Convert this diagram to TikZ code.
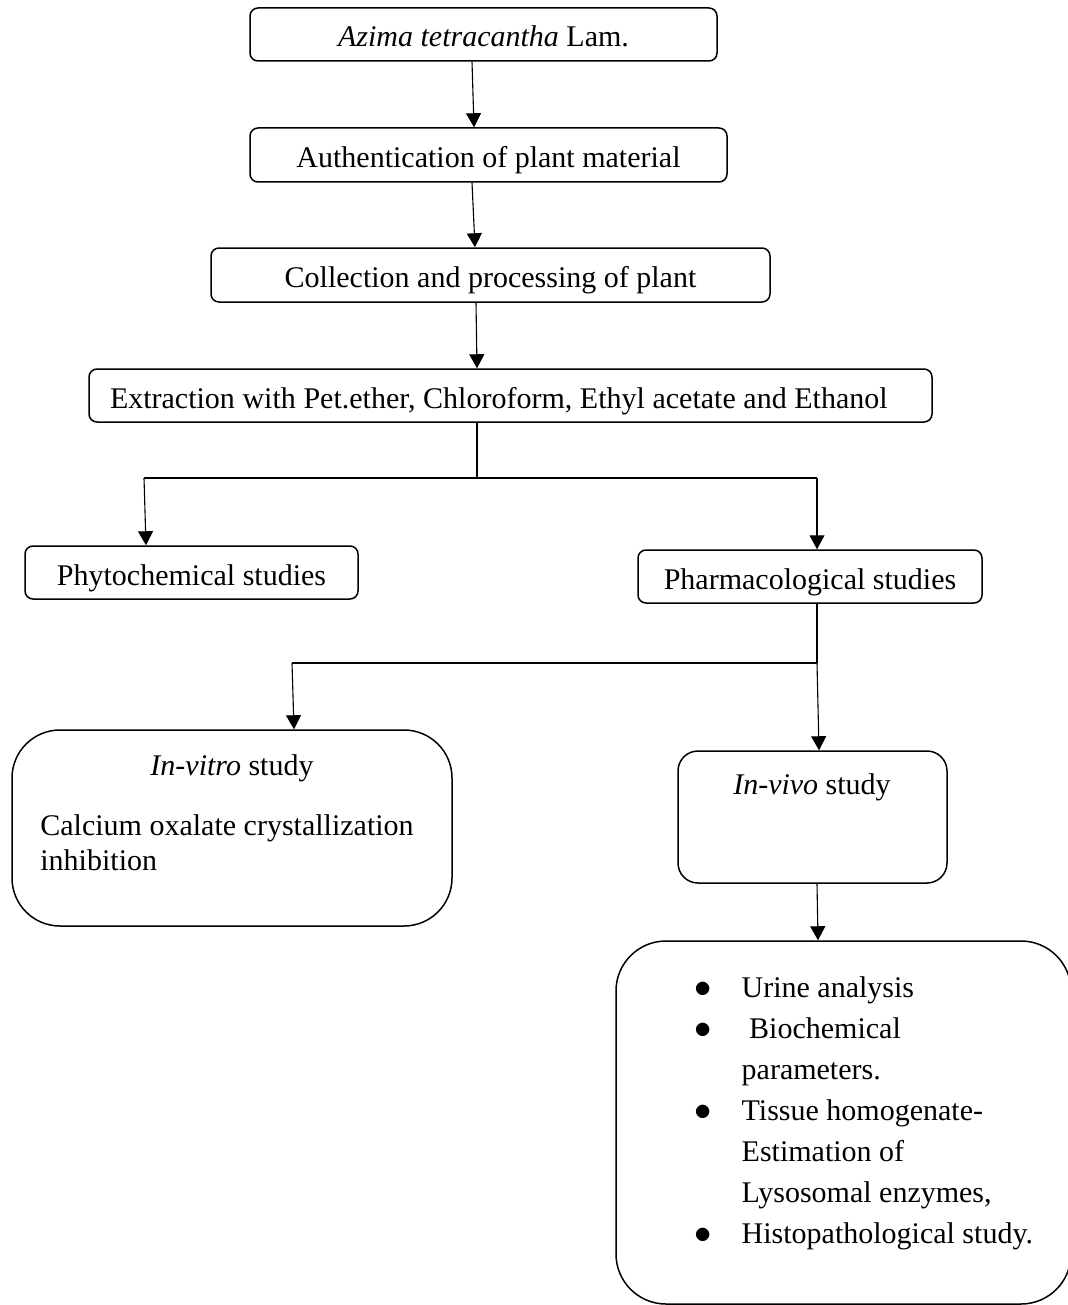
\documentclass[tikz,border=0pt]{standalone}
\usepackage{fontspec}
\setmainfont{Liberation Serif}
\usetikzlibrary{arrows.meta}

\begin{document}
\begin{tikzpicture}[x=0.5pt,y=-0.5pt,
   box/.style={draw,line width=0.75pt,rounded corners=4pt,inner sep=0pt,
     font=\fontsize{15}{18}\selectfont,text height=14pt,text depth=1.5pt},
   bigbox/.style={draw,line width=0.75pt,inner sep=0pt},
   txt/.style={inner sep=0pt,font=\fontsize{15}{18}\selectfont},
   arr/.style={line width=0.55pt,-{Triangle[length=7pt,width=7.5pt]}},
   ln/.style={line width=0.55pt}]
   \useasboundingbox (0,0) rectangle (1068,1305);
   \clip (0,0) rectangle (1068,1305);
   % Plant and preparation
   \node[box,minimum width=233.5pt,minimum height=26.5pt] (azima) at (483.5,34.5) {\textit{Azima tetracantha} Lam.};
   \node[box,minimum width=238.5pt,minimum height=27pt] (auth) at (488.5,155) {Authentication of plant material};
   \node[box,minimum width=279.5pt,minimum height=27pt] (collect) at (490.5,275) {Collection and processing of plant};
   \node[box,minimum height=26.5pt,text width=400.5pt,inner xsep=10.5pt,align=left] (extract) at (510.5,395.5)
     {\spaceskip=3.8pt plus 1pt minus 1pt Extraction with Pet.ether, Chloroform, Ethyl acetate and Ethanol};
   % Studies
   \node[box,minimum width=166.5pt,minimum height=26.5pt] (phyto) at (191.5,572.5) {Phytochemical studies};
   \node[box,minimum width=172pt,minimum height=26.5pt] (pharm) at (810,576.5) {Pharmacological studies};
   \node[bigbox,rounded corners=24pt,minimum width=220pt,minimum height=98pt] (invitro) at (232,828) {};
   \node[bigbox,rounded corners=10pt,minimum width=134.5pt,minimum height=66pt] (invivo) at (812.5,817) {};
   \node[bigbox,rounded corners=25pt,minimum width=227.5pt,minimum height=181.5pt] (tests) at (843.5,1122.5) {};
   % Box texts
   \node[txt,anchor=base] (vitrotitle) at (232,775) {\textit{In-vitro} study};
   \node[txt,anchor=base west,font=\fontsize{15}{17.5}\selectfont] (vitrotext) at (40,835)
     {\begin{tabular}[t]{@{}l@{}}Calcium oxalate crystallization\\inhibition\end{tabular}};
   \node[txt,anchor=base] (vivotitle) at (812,794) {\textit{In-vivo} study};
   \node[txt,anchor=base west,font=\fontsize{15}{20.5}\selectfont] (testlist) at (694,997)
     {\begin{tabular}[t]{@{}l@{\hspace{15pt}}l@{}}
       {\fontsize{18}{18}\selectfont$\bullet$} & Urine analysis\\
       {\fontsize{18}{18}\selectfont$\bullet$} & \ Biochemical\\
                 & parameters.\\
       {\fontsize{18}{18}\selectfont$\bullet$} & Tissue homogenate-\\
                 & Estimation of\\
                 & Lysosomal enzymes,\\
       {\fontsize{18}{18}\selectfont$\bullet$} & Histopathological study.
     \end{tabular}};
   % Junctions
   \coordinate (split1) at (477,478);
   \coordinate (left1) at (144,478);
   \coordinate (right1) at (817,478);
   \coordinate (split2) at (817,663);
   \coordinate (left2) at (292,663);
   % Main chain
   \draw[arr] (azima.south -| 472,0) -- (auth.north -| 474,0);
   \draw[arr] (auth.south -| 472,0) -- (collect.north -| 475,0);
   \draw[arr] (collect.south -| 476,0) -- (extract.north -| 477,0);
   % First branching
   \draw[ln] (extract.south -| split1) -- (split1);
   \draw[ln] (left1) -- (right1);
   \draw[arr] (left1) -- (phyto.north -| 146,0);
   \draw[arr] (right1) -- (pharm.north -| right1);
   % Second branching
   \draw[ln] (pharm.south -| split2) -- (split2);
   \draw[ln] (left2) -- (split2);
   \draw[arr] (left2) -- (invitro.north -| 294,0);
   \draw[arr] (split2) -- (invivo.north -| 819,0);
   \draw[arr] (invivo.south -| 817,0) -- (tests.north -| 818,0);
\end{tikzpicture}
\end{document}
